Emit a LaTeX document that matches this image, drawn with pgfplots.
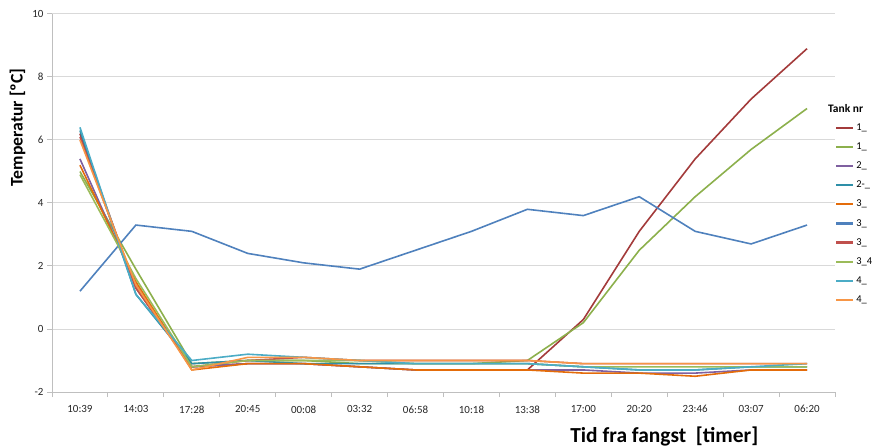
\documentclass[border=0pt]{standalone}
\usepackage{pgfplots}
\pgfplotsset{compat=1.18}
\usepackage{fontspec}
\setmainfont{Carlito}

\definecolor{cA}{HTML}{A33B3B}
\definecolor{cB}{HTML}{8CB04C}
\definecolor{cC}{HTML}{7F60A0}
\definecolor{cD}{HTML}{2E8FA8}
\definecolor{cE}{HTML}{E46C0A}
\definecolor{cF}{HTML}{4F81BD}
\definecolor{cG}{HTML}{C0504D}
\definecolor{cH}{HTML}{9BBB59}
\definecolor{cI}{HTML}{4BACC6}
\definecolor{cJ}{HTML}{F79646}
\definecolor{gridgray}{HTML}{D9D9D9}
\definecolor{axgray}{HTML}{BFBFBF}

% i = time index, s1..s10 = tank series
\pgfplotstableread{
i  s1   s2   s3   s4   s5   s6  s7   s8   s9   s10
0  6.2  5.0  5.4  6.3  5.2  1.2 6.1  4.9  6.4  6.0
1  1.3  1.9  1.4  1.1  1.5  3.3 1.3  1.6  1.1  1.4
2 -1.2 -1.1 -1.2 -1.1 -1.3  3.1 -1.2 -1.2 -1.0 -1.3
3 -1.1 -1.0 -1.1 -1.0 -1.1  2.4 -1.0 -1.0 -0.8 -0.9
4 -1.1 -1.0 -1.1 -1.1 -1.1  2.1 -0.9 -1.0 -0.9 -0.9
5 -1.2 -1.1 -1.2 -1.1 -1.2  1.9 -1.0 -1.0 -1.0 -1.0
6 -1.3 -1.1 -1.3 -1.1 -1.3  2.5 -1.0 -1.1 -1.1 -1.0
7 -1.3 -1.1 -1.3 -1.1 -1.3  3.1 -1.0 -1.1 -1.1 -1.0
8 -1.3 -1.0 -1.3 -1.1 -1.3  3.8 -1.0 -1.1 -1.1 -1.0
9  0.3  0.2 -1.3 -1.2 -1.4  3.6 -1.1 -1.2 -1.2 -1.1
10 3.1  2.5 -1.4 -1.3 -1.4  4.2 -1.1 -1.2 -1.3 -1.1
11 5.4  4.2 -1.4 -1.3 -1.5  3.1 -1.1 -1.2 -1.3 -1.1
12 7.3  5.7 -1.3 -1.2 -1.3  2.7 -1.1 -1.2 -1.2 -1.1
13 8.9  7.0 -1.3 -1.2 -1.3  3.3 -1.1 -1.2 -1.1 -1.1
}\data

\begin{document}
\begin{tikzpicture}
\begin{axis}[
  scale only axis,
  width=783bp, height=378bp,
  xmin=-0.5, xmax=13.5,
  ymin=-2, ymax=10,
  ytick={-2,0,...,10},
  xtick={0,...,13},
  xticklabels={10:39,14:03,17:28,20:45,00:08,03:32,06:58,10:18,13:38,17:00,20:20,23:46,03:07,06:20},
  minor xtick={-0.5,0.5,...,13.5},
  axis x line=bottom, axis y line=left,
  axis line style={draw=axgray, line width=1bp, -},
  tick align=outside,
  major tick length=5bp, minor tick length=5bp,
  xtick style={draw=none},
  minor x tick style={draw=axgray, line width=1bp},
  ytick style={draw=axgray, line width=1bp},
  ymajorgrids,
  grid style={draw=gridgray, line width=1bp},
  tick label style={font=\fontsize{11}{13}\selectfont, text=black!85},
  xticklabel style={yshift=-5bp},
  /pgf/number format/assume math mode=true,
  ylabel={\textbf{Temperatur [ºC]}},
  ylabel style={font=\fontsize{17.8}{19}\selectfont, at={(ticklabel cs:0.70)}},
  xlabel={\textbf{Tid fra fangst\ \ [timer]}},
  xlabel style={font=\fontsize{21.5}{23}\selectfont, at={(ticklabel cs:0.782)}, yshift=-7bp},
  legend style={draw=none, fill=none, at={(rel axis cs:1.0,0.716)}, anchor=north west,
    font=\fontsize{10.5}{12}\selectfont, row sep=6.9bp, inner sep=0pt},
  legend cell align=left,
  legend image code/.code={\draw[#1, line width=2.2bp] (0bp,0bp) -- (17bp,0bp);},
  every axis plot/.append style={line width=1.6bp, mark=none},
  clip=false,
]
\addplot[cA] table[x=i,y=s1] {\data};
\addplot[cB] table[x=i,y=s2] {\data};
\addplot[cC] table[x=i,y=s3] {\data};
\addplot[cD] table[x=i,y=s4] {\data};
\addplot[cE] table[x=i,y=s5] {\data};
\addplot[cF] table[x=i,y=s6] {\data};
\addplot[cG] table[x=i,y=s7] {\data};
\addplot[cH] table[x=i,y=s8] {\data};
\addplot[cI] table[x=i,y=s9] {\data};
\addplot[cJ] table[x=i,y=s10] {\data};
\legend{1\_,1\_,2\_,2-\_,3\_,3\_,3\_,3\_4,4\_,4\_}
\node[anchor=west, inner sep=0pt, font=\bfseries\fontsize{11.5}{13}\selectfont]
  at (rel axis cs:0.991,0.751) {Tank nr};
\coordinate (sw) at (rel axis cs:0,0);
\coordinate (ne) at (rel axis cs:1,1);
\end{axis}
\pgfresetboundingbox
\path[use as bounding box] ([shift={(-52bp,-55bp)}]sw) rectangle ([shift={(38bp,14bp)}]ne);
\end{tikzpicture}
\end{document}
